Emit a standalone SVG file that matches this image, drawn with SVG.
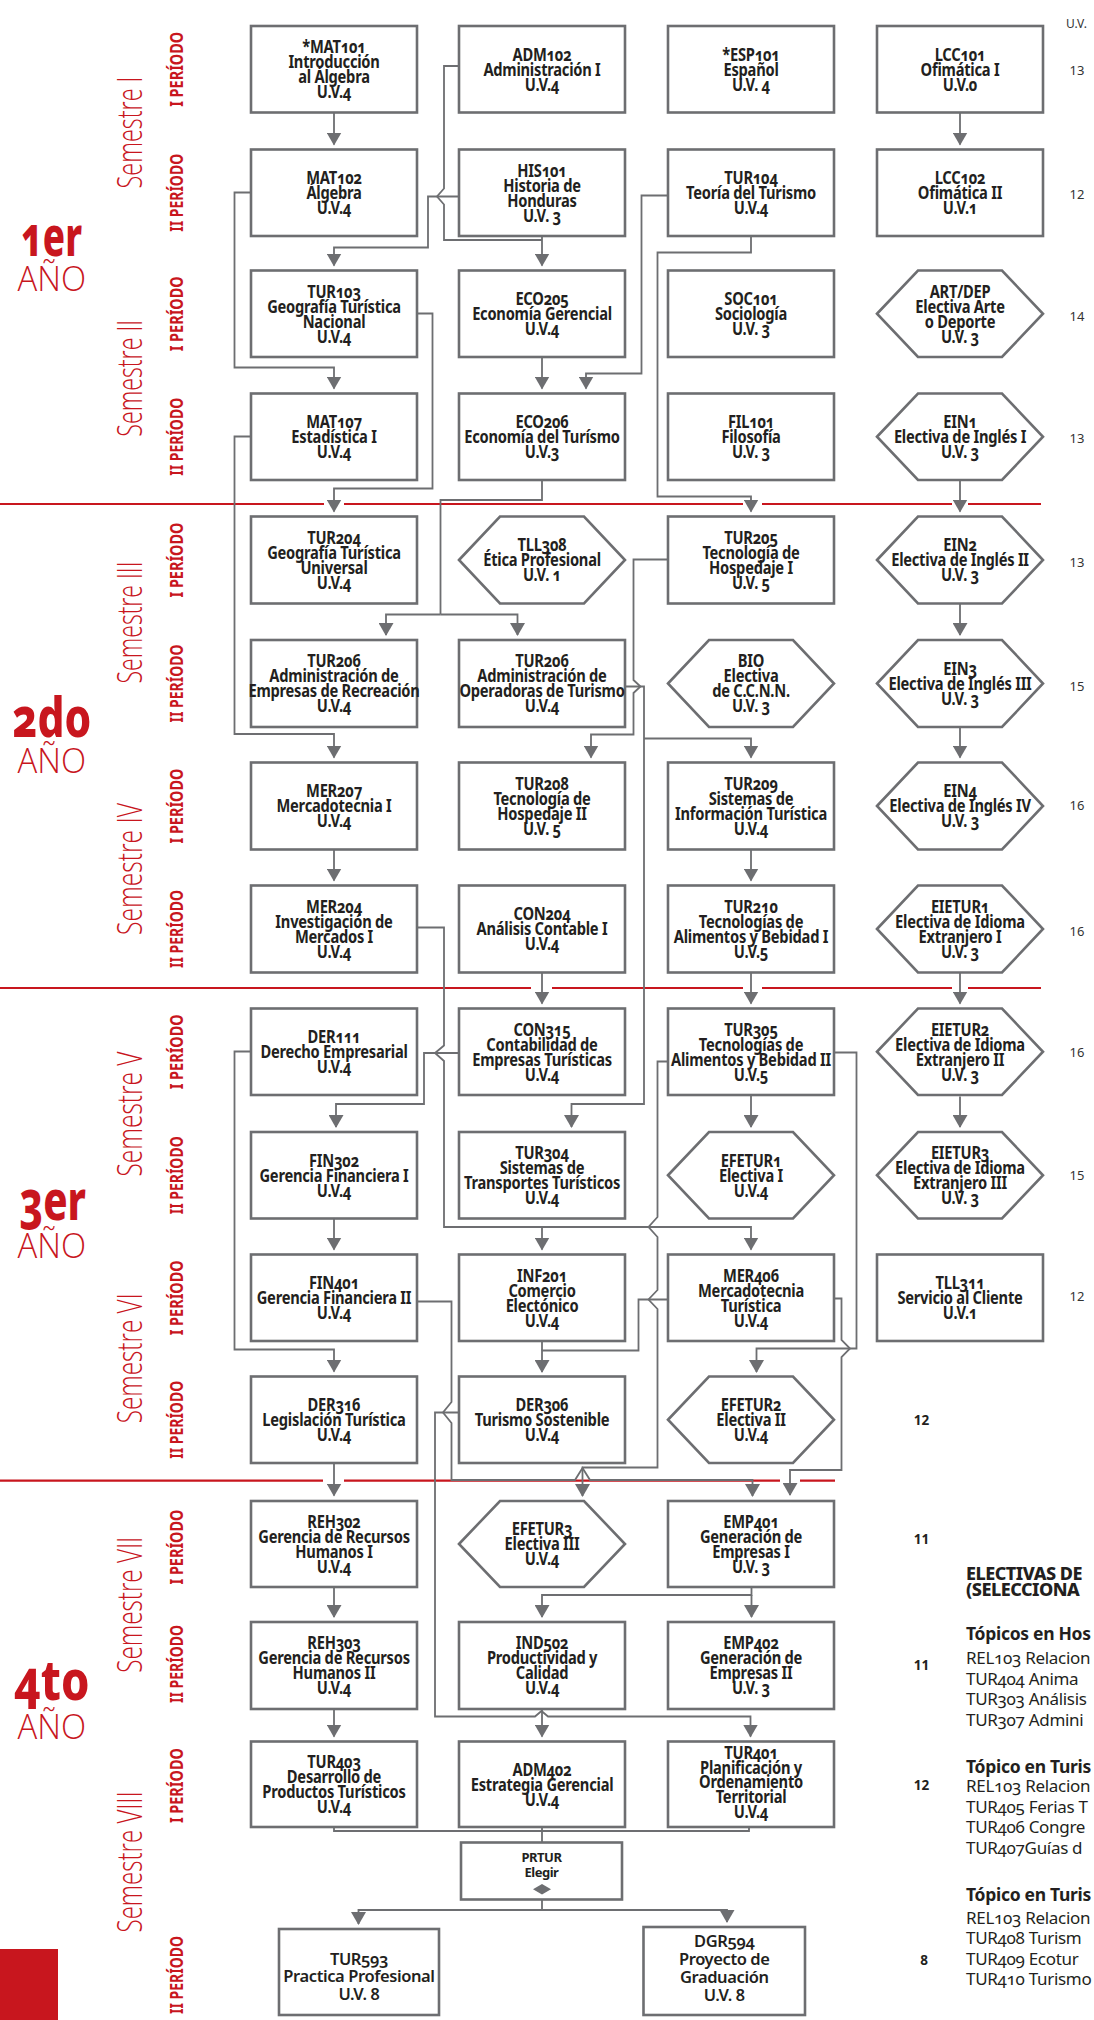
<svg xmlns="http://www.w3.org/2000/svg" width="1094" height="2020" viewBox="0 0 1094 2020">
<defs>
<style>
.b{fill:#fff;stroke:#6d6e71;stroke-width:2.6}
.n{font-family:"Noto Sans","Open Sans",sans-serif;font-weight:700;font-size:17.5px;letter-spacing:-0.3px;fill:#231f20;text-anchor:middle;font-variant-numeric:oldstyle-nums;transform-box:fill-box;transform-origin:50% 50%;transform:scaleX(0.84)}
.n2{font-family:"Noto Sans","Open Sans",sans-serif;font-weight:600;font-size:16.5px;letter-spacing:-0.4px;fill:#231f20;text-anchor:middle;font-variant-numeric:oldstyle-nums}
.ns{font-family:"Noto Sans","Open Sans",sans-serif;font-weight:700;font-size:13px;letter-spacing:-0.5px;fill:#231f20;text-anchor:middle}
.c{fill:none;stroke:#6d6e71;stroke-width:1.8}
.a{marker-end:url(#ah)}
.r{stroke:#c8161e;stroke-width:2.2}
.sem{font-family:"Open Sans","Noto Sans",sans-serif;font-weight:300;font-size:35px;fill:#c8161e;text-anchor:middle}
.per{font-family:"Noto Sans","Open Sans",sans-serif;font-weight:700;font-size:18px;fill:#c8161e;text-anchor:middle}
.yr{font-family:"Noto Sans","Open Sans",sans-serif;font-weight:800;font-size:56px;fill:#c8161e;font-variant-numeric:oldstyle-nums}
.ano{font-family:"Open Sans","Noto Sans",sans-serif;font-weight:300;font-size:35px;fill:#c8161e}
.num{font-family:"Noto Sans","Open Sans",sans-serif;font-size:13px;fill:#333;text-anchor:middle}
.numb{font-family:"Noto Sans","Open Sans",sans-serif;font-weight:700;font-size:13.5px;fill:#231f20;text-anchor:middle}
.el{font-family:"Noto Sans","Open Sans",sans-serif;font-size:17px;letter-spacing:-0.3px;fill:#231f20;font-variant-numeric:oldstyle-nums}
.elb{font-weight:700;font-size:17.5px}
.elh{font-weight:800;font-size:18px;letter-spacing:-0.5px}
</style>
<marker id="ah" viewBox="0 0 13 15" refX="12" refY="7.5" markerWidth="13" markerHeight="15" markerUnits="userSpaceOnUse" orient="auto"><path d="M0,0L13,7.5L0,15Z" fill="#6d6e71"/></marker>
</defs>
<rect width="1094" height="2020" fill="#fff"/>

<g id="labels">
<text class="sem" transform="translate(142,132.5) rotate(-90)" textLength="112" lengthAdjust="spacingAndGlyphs">Semestre I</text>
<text class="sem" transform="translate(142,378.3) rotate(-90)" textLength="117" lengthAdjust="spacingAndGlyphs">Semestre II</text>
<text class="sem" transform="translate(142,622.5) rotate(-90)" textLength="122" lengthAdjust="spacingAndGlyphs">Semestre III</text>
<text class="sem" transform="translate(142,869) rotate(-90)" textLength="132" lengthAdjust="spacingAndGlyphs">Semestre IV</text>
<text class="sem" transform="translate(142,1114) rotate(-90)" textLength="125" lengthAdjust="spacingAndGlyphs">Semestre V</text>
<text class="sem" transform="translate(142,1358.3) rotate(-90)" textLength="130" lengthAdjust="spacingAndGlyphs">Semestre VI</text>
<text class="sem" transform="translate(142,1604.8) rotate(-90)" textLength="136" lengthAdjust="spacingAndGlyphs">Semestre VII</text>
<text class="sem" transform="translate(142,1862) rotate(-90)" textLength="141" lengthAdjust="spacingAndGlyphs">Semestre VIII</text>

<text class="per" transform="translate(183,69.3) rotate(-90)" textLength="75" lengthAdjust="spacingAndGlyphs">I PERÍODO</text>
<text class="per" transform="translate(183,192.8) rotate(-90)" textLength="78" lengthAdjust="spacingAndGlyphs">II PERÍODO</text>
<text class="per" transform="translate(183,313.8) rotate(-90)" textLength="75" lengthAdjust="spacingAndGlyphs">I PERÍODO</text>
<text class="per" transform="translate(183,436.8) rotate(-90)" textLength="78" lengthAdjust="spacingAndGlyphs">II PERÍODO</text>
<text class="per" transform="translate(183,560) rotate(-90)" textLength="75" lengthAdjust="spacingAndGlyphs">I PERÍODO</text>
<text class="per" transform="translate(183,683.5) rotate(-90)" textLength="78" lengthAdjust="spacingAndGlyphs">II PERÍODO</text>
<text class="per" transform="translate(183,806) rotate(-90)" textLength="75" lengthAdjust="spacingAndGlyphs">I PERÍODO</text>
<text class="per" transform="translate(183,929) rotate(-90)" textLength="78" lengthAdjust="spacingAndGlyphs">II PERÍODO</text>
<text class="per" transform="translate(183,1051.8) rotate(-90)" textLength="75" lengthAdjust="spacingAndGlyphs">I PERÍODO</text>
<text class="per" transform="translate(183,1175.3) rotate(-90)" textLength="78" lengthAdjust="spacingAndGlyphs">II PERÍODO</text>
<text class="per" transform="translate(183,1297.8) rotate(-90)" textLength="75" lengthAdjust="spacingAndGlyphs">I PERÍODO</text>
<text class="per" transform="translate(183,1419.8) rotate(-90)" textLength="78" lengthAdjust="spacingAndGlyphs">II PERÍODO</text>
<text class="per" transform="translate(183,1547) rotate(-90)" textLength="75" lengthAdjust="spacingAndGlyphs">I PERÍODO</text>
<text class="per" transform="translate(183,1664) rotate(-90)" textLength="78" lengthAdjust="spacingAndGlyphs">II PERÍODO</text>
<text class="per" transform="translate(183,1785.6) rotate(-90)" textLength="75" lengthAdjust="spacingAndGlyphs">I PERÍODO</text>
<text class="per" transform="translate(183,1975) rotate(-90)" textLength="78" lengthAdjust="spacingAndGlyphs">II PERÍODO</text>

<text class="yr" x="21" y="256" textLength="61" lengthAdjust="spacingAndGlyphs">1er</text>
<text class="ano" x="17.5" y="291" textLength="68.5" lengthAdjust="spacingAndGlyphs">AÑO</text>
<text class="yr" x="12.3" y="736.7" textLength="79" lengthAdjust="spacingAndGlyphs">2do</text>
<text class="ano" x="17.5" y="772.5" textLength="68.5" lengthAdjust="spacingAndGlyphs">AÑO</text>
<text class="yr" x="19.3" y="1220" textLength="66.7" lengthAdjust="spacingAndGlyphs">3er</text>
<text class="ano" x="17.5" y="1257.5" textLength="68.5" lengthAdjust="spacingAndGlyphs">AÑO</text>
<text class="yr" x="14" y="1700.4" textLength="75.5" lengthAdjust="spacingAndGlyphs">4to</text>
<text class="ano" x="17.5" y="1739" textLength="68.5" lengthAdjust="spacingAndGlyphs">AÑO</text>
<rect x="0" y="1949" width="58" height="71" fill="#c8161e"/>

<text class="num" x="1076.5" y="28" style="font-size:12px">U.V.</text>
<text class="num" x="1077" y="74.7">13</text>
<text class="num" x="1077" y="198.7">12</text>
<text class="num" x="1077" y="321.4">14</text>
<text class="num" x="1077" y="442.7">13</text>
<text class="num" x="1077" y="567.4">13</text>
<text class="num" x="1077" y="691.4">15</text>
<text class="num" x="1077" y="810.4">16</text>
<text class="num" x="1077" y="936.4">16</text>
<text class="num" x="1077" y="1057.4">16</text>
<text class="num" x="1077" y="1179.7">15</text>
<text class="num" x="1077" y="1301.4">12</text>
<text class="numb" x="921.5" y="1425">12</text>
<text class="numb" x="921.5" y="1544">11</text>
<text class="numb" x="921.5" y="1670">11</text>
<text class="numb" x="921.5" y="1790">12</text>
<text class="numb" x="924" y="1965">8</text>

<text class="el elh" x="966" y="1580">ELECTIVAS DE</text>
<text class="el elh" x="966" y="1596">(SELECCIONA</text>
<text class="el elb" x="966" y="1640">Tópicos en Hos</text>
<text class="el" x="966" y="1664">REL103 Relacion</text>
<text class="el" x="966" y="1684.5">TUR404 Anima</text>
<text class="el" x="966" y="1705">TUR303 Análisis</text>
<text class="el" x="966" y="1725.5">TUR307 Admini</text>
<text class="el elb" x="966" y="1772.5">Tópico en Turis</text>
<text class="el" x="966" y="1792">REL103 Relacion</text>
<text class="el" x="966" y="1812.5">TUR405 Ferias T</text>
<text class="el" x="966" y="1833">TUR406 Congre</text>
<text class="el" x="966" y="1853.5">TUR407Guías d</text>
<text class="el elb" x="966" y="1900.5">Tópico en Turis</text>
<text class="el" x="966" y="1923.5">REL103 Relacion</text>
<text class="el" x="966" y="1944">TUR408 Turism</text>
<text class="el" x="966" y="1964.5">TUR409 Ecotur</text>
<text class="el" x="966" y="1985">TUR410 Turismo</text>
</g>

<g id="year-lines">
<path class="r" d="M0,504H324M344,504H743M762,504H952M968,504H1041"/>
<path class="r" d="M0,988H531M552,988H743M762,988H952M968,988H1041"/>
<path class="r" d="M0,1480.7H323M344,1480.7H780M800,1480.7H835"/>
</g>

<g id="connectors">
<path class="c a" d="M334,112.5V144.5"/>
<path class="c a" d="M960,112.5V144.5"/>
<path class="c a" d="M251,192.5H234.5V367.5H334V388.5"/>
<path class="c" d="M459,66H444V188.5L437,196.5L444,204.5V240H542"/>
<path class="c a" d="M542,236V265.5"/>
<path class="c a" d="M459,196.5H428V247.5H334V265.5"/>
<path class="c a" d="M542,357V388.5"/>
<path class="c a" d="M668,195.5H641.5V373.5H586V388.5"/>
<path class="c a" d="M751,236V252.5H657.5V496.5H751V511.5"/>
<path class="c a" d="M417,313.5H432.5V488.5H334V511.5"/>
<path class="c a" d="M251,436.5H234.5V734H334V757.5"/>
<path class="c" d="M542,480V500H440.5V614.5"/>
<path class="c a" d="M440.5,614.5H386V635"/>
<path class="c a" d="M440.5,614.5H517.5V635"/>
<path class="c a" d="M960,480V511.5"/>
<path class="c a" d="M668,559.5H633.5V680L640.5,686.5L633.5,693V734.5H591V757.5"/>
<path class="c a" d="M625.5,686.5H644V1104H571.5V1127"/>
<path class="c a" d="M644,738.5H751V757.5"/>
<path class="c a" d="M960,603.5V635"/>
<path class="c a" d="M960,727V757.5"/>
<path class="c a" d="M334,849.5V880.5"/>
<path class="c a" d="M751,849.5V880.5"/>
<path class="c a" d="M417,927.5H444V1045.5L435,1053L444,1061V1227H751V1249.5"/>
<path class="c a" d="M542,1227V1249.5"/>
<path class="c a" d="M751,972.5V1003.5"/>
<path class="c a" d="M542,972.5V1003.5"/>
<path class="c a" d="M960,972.5V1003.5"/>
<path class="c a" d="M251,1051.5H234.5V1349.5H334V1371.5"/>
<path class="c a" d="M459,1053H424V1104H336V1127"/>
<path class="c a" d="M334,1218.5V1249.5"/>
<path class="c a" d="M417,1301.5H451.5V1402L443,1412.5L451.5,1423V1480H575L582.5,1468L590,1480H752.5V1496"/>
<path class="c a" d="M668,1061.5H657.5V1217L648.5,1227L657.5,1237V1290L648.5,1299.5L657.5,1309V1467.5H582.5V1496"/>
<path class="c a" d="M668,1299.5H638.5V1350.5H542V1372"/>
<path class="c" d="M542,1341V1350.5"/>
<path class="c a" d="M751,1095V1127"/>
<path class="c a" d="M834,1052.5H856.5V1348.5H756.5V1372"/>
<path class="c a" d="M834,1298.5H841.5V1340L850,1348.5L841.5,1357V1470H790V1495"/>
<path class="c a" d="M960,1096.5V1127"/>
<path class="c a" d="M459,1412.5H435V1716.5H535L541.5,1711L548,1716.5H750.5V1736.5"/>
<path class="c a" d="M542,1709V1736.5"/>
<path class="c a" d="M334,1463V1495.5"/>
<path class="c a" d="M751.5,1587V1595H542V1617"/>
<path class="c a" d="M751.5,1595V1617"/>
<path class="c a" d="M334,1587V1617"/>
<path class="c a" d="M334,1709V1736.5"/>
<path class="c" d="M334,1827V1831H749V1827M542,1827V1842.5"/>
<path class="c a" d="M542,1899.5V1910H358.5V1924"/>
<path class="c a" d="M542,1910H727V1922"/>
</g>

<g id="n-MAT101"><rect class="b" x="251" y="26" width="166" height="86.5"/><text class="n" x="334" y="53.25">*MAT101<tspan x="334" dy="15">Introducción</tspan><tspan x="334" dy="15">al Álgebra</tspan><tspan x="334" dy="15">U.V.4</tspan></text></g>
<g id="n-ADM102"><rect class="b" x="459" y="26" width="166" height="86.5"/><text class="n" x="542" y="60.75">ADM102<tspan x="542" dy="15">Administración I</tspan><tspan x="542" dy="15">U.V.4</tspan></text></g>
<g id="n-ESP101"><rect class="b" x="668" y="26" width="166" height="86.5"/><text class="n" x="751" y="60.75">*ESP101<tspan x="751" dy="15">Español</tspan><tspan x="751" dy="15">U.V. 4</tspan></text></g>
<g id="n-LCC101"><rect class="b" x="877" y="26" width="166" height="86.5"/><text class="n" x="960" y="60.75">LCC101<tspan x="960" dy="15">Ofimática I</tspan><tspan x="960" dy="15">U.V.0</tspan></text></g>

<g id="n-MAT102"><rect class="b" x="251" y="149.5" width="166" height="86.5"/><text class="n" x="334" y="184.25">MAT102<tspan x="334" dy="15">Álgebra</tspan><tspan x="334" dy="15">U.V.4</tspan></text></g>
<g id="n-HIS101"><rect class="b" x="459" y="149.5" width="166" height="86.5"/><text class="n" x="542" y="176.75">HIS101<tspan x="542" dy="15">Historia de</tspan><tspan x="542" dy="15">Honduras</tspan><tspan x="542" dy="15">U.V. 3</tspan></text></g>
<g id="n-TUR104"><rect class="b" x="668" y="149.5" width="166" height="86.5"/><text class="n" x="751" y="184.25">TUR104<tspan x="751" dy="15">Teoría del Turismo</tspan><tspan x="751" dy="15">U.V.4</tspan></text></g>
<g id="n-LCC102"><rect class="b" x="877" y="149.5" width="166" height="86.5"/><text class="n" x="960" y="184.25">LCC102<tspan x="960" dy="15">Ofimática II</tspan><tspan x="960" dy="15">U.V.1</tspan></text></g>

<g id="n-TUR103"><rect class="b" x="251" y="270.5" width="166" height="86.5"/><text class="n" x="334" y="297.75">TUR103<tspan x="334" dy="15">Geografía Turística</tspan><tspan x="334" dy="15">Nacional</tspan><tspan x="334" dy="15">U.V.4</tspan></text></g>
<g id="n-ECO205"><rect class="b" x="459" y="270.5" width="166" height="86.5"/><text class="n" x="542" y="305.25">ECO205<tspan x="542" dy="15">Economía Gerencial</tspan><tspan x="542" dy="15">U.V.4</tspan></text></g>
<g id="n-SOC101"><rect class="b" x="668" y="270.5" width="166" height="86.5"/><text class="n" x="751" y="305.25">SOC101<tspan x="751" dy="15">Sociología</tspan><tspan x="751" dy="15">U.V. 3</tspan></text></g>
<g id="n-ARTDEP"><polygon class="b" points="877,313.75 918,270.5 1002,270.5 1043,313.75 1002,357 918,357"/><text class="n" x="960" y="297.75">ART/DEP<tspan x="960" dy="15">Electiva Arte</tspan><tspan x="960" dy="15">o Deporte</tspan><tspan x="960" dy="15">U.V. 3</tspan></text></g>

<g id="n-MAT107"><rect class="b" x="251" y="393.5" width="166" height="86.5"/><text class="n" x="334" y="428.25">MAT107<tspan x="334" dy="15">Estadística I</tspan><tspan x="334" dy="15">U.V.4</tspan></text></g>
<g id="n-ECO206"><rect class="b" x="459" y="393.5" width="166" height="86.5"/><text class="n" x="542" y="428.25">ECO206<tspan x="542" dy="15">Economía del Turísmo</tspan><tspan x="542" dy="15">U.V.3</tspan></text></g>
<g id="n-FIL101"><rect class="b" x="668" y="393.5" width="166" height="86.5"/><text class="n" x="751" y="428.25">FIL101<tspan x="751" dy="15">Filosofía</tspan><tspan x="751" dy="15">U.V. 3</tspan></text></g>
<g id="n-EIN1"><polygon class="b" points="877,436.75 918,393.5 1002,393.5 1043,436.75 1002,480 918,480"/><text class="n" x="960" y="428.25">EIN1<tspan x="960" dy="15">Electiva de Inglés I</tspan><tspan x="960" dy="15">U.V. 3</tspan></text></g>

<g id="n-TUR204"><rect class="b" x="251" y="516.5" width="166" height="87"/><text class="n" x="334" y="544">TUR204<tspan x="334" dy="15">Geografía Turística</tspan><tspan x="334" dy="15">Universal</tspan><tspan x="334" dy="15">U.V.4</tspan></text></g>
<g id="n-TLL308"><polygon class="b" points="459,560 500,516.5 584,516.5 625,560 584,603.5 500,603.5"/><text class="n" x="542" y="551.5">TLL308<tspan x="542" dy="15">Ética Profesional</tspan><tspan x="542" dy="15">U.V. 1</tspan></text></g>
<g id="n-TUR205"><rect class="b" x="668" y="516.5" width="166" height="87"/><text class="n" x="751" y="544">TUR205<tspan x="751" dy="15">Tecnología de</tspan><tspan x="751" dy="15">Hospedaje I</tspan><tspan x="751" dy="15">U.V. 5</tspan></text></g>
<g id="n-EIN2"><polygon class="b" points="877,560 918,516.5 1002,516.5 1043,560 1002,603.5 918,603.5"/><text class="n" x="960" y="551.5">EIN2<tspan x="960" dy="15">Electiva de Inglés II</tspan><tspan x="960" dy="15">U.V. 3</tspan></text></g>

<g id="n-TUR206a"><rect class="b" x="251" y="640" width="166" height="87"/><text class="n" x="334" y="667.5">TUR206<tspan x="334" dy="15">Administración de</tspan><tspan x="334" dy="15">Empresas de Recreación</tspan><tspan x="334" dy="15">U.V.4</tspan></text></g>
<g id="n-TUR206b"><rect class="b" x="459" y="640" width="166" height="87"/><text class="n" x="542" y="667.5">TUR206<tspan x="542" dy="15">Administración de</tspan><tspan x="542" dy="15">Operadoras de Turismo</tspan><tspan x="542" dy="15">U.V.4</tspan></text></g>
<g id="n-BIO"><polygon class="b" points="668,683.5 709,640 793,640 834,683.5 793,727 709,727"/><text class="n" x="751" y="667.5">BIO<tspan x="751" dy="15">Electiva</tspan><tspan x="751" dy="15">de C.C.N.N.</tspan><tspan x="751" dy="15">U.V. 3</tspan></text></g>
<g id="n-EIN3"><polygon class="b" points="877,683.5 918,640 1002,640 1043,683.5 1002,727 918,727"/><text class="n" x="960" y="675">EIN3<tspan x="960" dy="15">Electiva de Inglés III</tspan><tspan x="960" dy="15">U.V. 3</tspan></text></g>

<g id="n-MER207"><rect class="b" x="251" y="762.5" width="166" height="87"/><text class="n" x="334" y="797.5">MER207<tspan x="334" dy="15">Mercadotecnia I</tspan><tspan x="334" dy="15">U.V.4</tspan></text></g>
<g id="n-TUR208"><rect class="b" x="459" y="762.5" width="166" height="87"/><text class="n" x="542" y="790">TUR208<tspan x="542" dy="15">Tecnología de</tspan><tspan x="542" dy="15">Hospedaje II</tspan><tspan x="542" dy="15">U.V. 5</tspan></text></g>
<g id="n-TUR209"><rect class="b" x="668" y="762.5" width="166" height="87"/><text class="n" x="751" y="790">TUR209<tspan x="751" dy="15">Sistemas de</tspan><tspan x="751" dy="15">Información Turística</tspan><tspan x="751" dy="15">U.V.4</tspan></text></g>
<g id="n-EIN4"><polygon class="b" points="877,806 918,762.5 1002,762.5 1043,806 1002,849.5 918,849.5"/><text class="n" x="960" y="797.5">EIN4<tspan x="960" dy="15">Electiva de Inglés IV</tspan><tspan x="960" dy="15">U.V. 3</tspan></text></g>

<g id="n-MER204"><rect class="b" x="251" y="885.5" width="166" height="87"/><text class="n" x="334" y="913">MER204<tspan x="334" dy="15">Investigación de</tspan><tspan x="334" dy="15">Mercados I</tspan><tspan x="334" dy="15">U.V.4</tspan></text></g>
<g id="n-CON204"><rect class="b" x="459" y="885.5" width="166" height="87"/><text class="n" x="542" y="920.5">CON204<tspan x="542" dy="15">Análisis Contable I</tspan><tspan x="542" dy="15">U.V.4</tspan></text></g>
<g id="n-TUR210"><rect class="b" x="668" y="885.5" width="166" height="87"/><text class="n" x="751" y="913">TUR210<tspan x="751" dy="15">Tecnologías de</tspan><tspan x="751" dy="15">Alimentos y Bebidad I</tspan><tspan x="751" dy="15">U.V.5</tspan></text></g>
<g id="n-EIETUR1"><polygon class="b" points="877,929 918,885.5 1002,885.5 1043,929 1002,972.5 918,972.5"/><text class="n" x="960" y="913">EIETUR1<tspan x="960" dy="15">Electiva de Idioma</tspan><tspan x="960" dy="15">Extranjero I</tspan><tspan x="960" dy="15">U.V. 3</tspan></text></g>

<g id="n-DER111"><rect class="b" x="251" y="1008.5" width="166" height="86.5"/><text class="n" x="334" y="1043.25">DER111<tspan x="334" dy="15">Derecho Empresarial</tspan><tspan x="334" dy="15">U.V.4</tspan></text></g>
<g id="n-CON315"><rect class="b" x="459" y="1008.5" width="166" height="86.5"/><text class="n" x="542" y="1035.75">CON315<tspan x="542" dy="15">Contabilidad de</tspan><tspan x="542" dy="15">Empresas Turísticas</tspan><tspan x="542" dy="15">U.V.4</tspan></text></g>
<g id="n-TUR305"><rect class="b" x="668" y="1008.5" width="166" height="86.5"/><text class="n" x="751" y="1035.75">TUR305<tspan x="751" dy="15">Tecnologías de</tspan><tspan x="751" dy="15">Alimentos y Bebidad II</tspan><tspan x="751" dy="15">U.V.5</tspan></text></g>
<g id="n-EIETUR2"><polygon class="b" points="877,1051.75 918,1008.5 1002,1008.5 1043,1051.75 1002,1095 918,1095"/><text class="n" x="960" y="1035.75">EIETUR2<tspan x="960" dy="15">Electiva de Idioma</tspan><tspan x="960" dy="15">Extranjero II</tspan><tspan x="960" dy="15">U.V. 3</tspan></text></g>

<g id="n-FIN302"><rect class="b" x="251" y="1132" width="166" height="86.5"/><text class="n" x="334" y="1166.75">FIN302<tspan x="334" dy="15">Gerencia Financiera I</tspan><tspan x="334" dy="15">U.V.4</tspan></text></g>
<g id="n-TUR304"><rect class="b" x="459" y="1132" width="166" height="86.5"/><text class="n" x="542" y="1159.25">TUR304<tspan x="542" dy="15">Sistemas de</tspan><tspan x="542" dy="15">Transportes Turísticos</tspan><tspan x="542" dy="15">U.V.4</tspan></text></g>
<g id="n-EFETUR1"><polygon class="b" points="668,1175.25 709,1132 793,1132 834,1175.25 793,1218.5 709,1218.5"/><text class="n" x="751" y="1166.75">EFETUR1<tspan x="751" dy="15">Electiva I</tspan><tspan x="751" dy="15">U.V.4</tspan></text></g>
<g id="n-EIETUR3"><polygon class="b" points="877,1175.25 918,1132 1002,1132 1043,1175.25 1002,1218.5 918,1218.5"/><text class="n" x="960" y="1159.25">EIETUR3<tspan x="960" dy="15">Electiva de Idioma</tspan><tspan x="960" dy="15">Extranjero III</tspan><tspan x="960" dy="15">U.V. 3</tspan></text></g>

<g id="n-FIN401"><rect class="b" x="251" y="1254.5" width="166" height="86.5"/><text class="n" x="334" y="1289.25">FIN401<tspan x="334" dy="15">Gerencia Financiera II</tspan><tspan x="334" dy="15">U.V.4</tspan></text></g>
<g id="n-INF201"><rect class="b" x="459" y="1254.5" width="166" height="86.5"/><text class="n" x="542" y="1281.75">INF201<tspan x="542" dy="15">Comercio</tspan><tspan x="542" dy="15">Electónico</tspan><tspan x="542" dy="15">U.V.4</tspan></text></g>
<g id="n-MER406"><rect class="b" x="668" y="1254.5" width="166" height="86.5"/><text class="n" x="751" y="1281.75">MER406<tspan x="751" dy="15">Mercadotecnia</tspan><tspan x="751" dy="15">Turística</tspan><tspan x="751" dy="15">U.V.4</tspan></text></g>
<g id="n-TLL311"><rect class="b" x="877" y="1254.5" width="166" height="86.5"/><text class="n" x="960" y="1289.25">TLL311<tspan x="960" dy="15">Servicio al Cliente</tspan><tspan x="960" dy="15">U.V.1</tspan></text></g>

<g id="n-DER316"><rect class="b" x="251" y="1376.5" width="166" height="86.5"/><text class="n" x="334" y="1411.25">DER316<tspan x="334" dy="15">Legislación Turística</tspan><tspan x="334" dy="15">U.V.4</tspan></text></g>
<g id="n-DER306"><rect class="b" x="459" y="1376.5" width="166" height="86.5"/><text class="n" x="542" y="1411.25">DER306<tspan x="542" dy="15">Turismo Sostenible</tspan><tspan x="542" dy="15">U.V.4</tspan></text></g>
<g id="n-EFETUR2"><polygon class="b" points="668,1419.75 709,1376.5 793,1376.5 834,1419.75 793,1463 709,1463"/><text class="n" x="751" y="1411.25">EFETUR2<tspan x="751" dy="15">Electiva II</tspan><tspan x="751" dy="15">U.V.4</tspan></text></g>

<g id="n-REH302"><rect class="b" x="251" y="1501" width="166" height="86"/><text class="n" x="334" y="1528">REH302<tspan x="334" dy="15">Gerencia de Recursos</tspan><tspan x="334" dy="15">Humanos I</tspan><tspan x="334" dy="15">U.V.4</tspan></text></g>
<g id="n-EFETUR3"><polygon class="b" points="459,1544 500,1501 584,1501 625,1544 584,1587 500,1587"/><text class="n" x="542" y="1535.5">EFETUR3<tspan x="542" dy="15">Electiva III</tspan><tspan x="542" dy="15">U.V.4</tspan></text></g>
<g id="n-EMP401"><rect class="b" x="668" y="1501" width="166" height="86"/><text class="n" x="751" y="1528">EMP401<tspan x="751" dy="15">Generación de</tspan><tspan x="751" dy="15">Empresas I</tspan><tspan x="751" dy="15">U.V. 3</tspan></text></g>

<g id="n-REH303"><rect class="b" x="251" y="1622" width="166" height="87"/><text class="n" x="334" y="1649.5">REH303<tspan x="334" dy="15">Gerencia de Recursos</tspan><tspan x="334" dy="15">Humanos II</tspan><tspan x="334" dy="15">U.V.4</tspan></text></g>
<g id="n-IND502"><rect class="b" x="459" y="1622" width="166" height="87"/><text class="n" x="542" y="1649.5">IND502<tspan x="542" dy="15">Productividad y</tspan><tspan x="542" dy="15">Calidad</tspan><tspan x="542" dy="15">U.V.4</tspan></text></g>
<g id="n-EMP402"><rect class="b" x="668" y="1622" width="166" height="87"/><text class="n" x="751" y="1649.5">EMP402<tspan x="751" dy="15">Generación de</tspan><tspan x="751" dy="15">Empresas II</tspan><tspan x="751" dy="15">U.V. 3</tspan></text></g>

<g id="n-TUR403"><rect class="b" x="251" y="1741.5" width="166" height="85.5"/><text class="n" x="334" y="1768.25">TUR403<tspan x="334" dy="15">Desarrollo de</tspan><tspan x="334" dy="15">Productos Turísticos</tspan><tspan x="334" dy="15">U.V.4</tspan></text></g>
<g id="n-ADM402"><rect class="b" x="459" y="1741.5" width="166" height="85.5"/><text class="n" x="542" y="1775.75">ADM402<tspan x="542" dy="15">Estrategia Gerencial</tspan><tspan x="542" dy="15">U.V.4</tspan></text></g>
<g id="n-TUR401"><rect class="b" x="668" y="1741.5" width="166" height="85.5"/><text class="n" x="751" y="1759">TUR401<tspan x="751" dy="14.7">Planificación y</tspan><tspan x="751" dy="14.7">Ordenamiento</tspan><tspan x="751" dy="14.7">Territorial</tspan><tspan x="751" dy="14.7">U.V.4</tspan></text></g>

<g id="n-PRTUR"><rect class="b" x="461" y="1842.5" width="161" height="57"/><text class="ns" x="541.5" y="1862">PRTUR<tspan x="541.5" dy="15">Elegir</tspan></text><polygon points="533,1889.3 542,1884 551,1889.3 542,1894.6" fill="#6d6e71"/></g>
<g id="n-TUR593"><rect class="b" x="279" y="1929" width="160" height="86"/><text class="n2" x="359" y="1964.5">TUR593<tspan x="359" dy="17.5">Practica Profesional</tspan><tspan x="359" dy="17.5">U.V. 8</tspan></text></g>
<g id="n-DGR594"><rect class="b" x="643.5" y="1927" width="161.5" height="88"/><text class="n2" x="724.25" y="1946.5">DGR594<tspan x="724.25" dy="18.3">Proyecto de</tspan><tspan x="724.25" dy="18.3">Graduación</tspan><tspan x="724.25" dy="18.3">U.V. 8</tspan></text></g>
</svg>
